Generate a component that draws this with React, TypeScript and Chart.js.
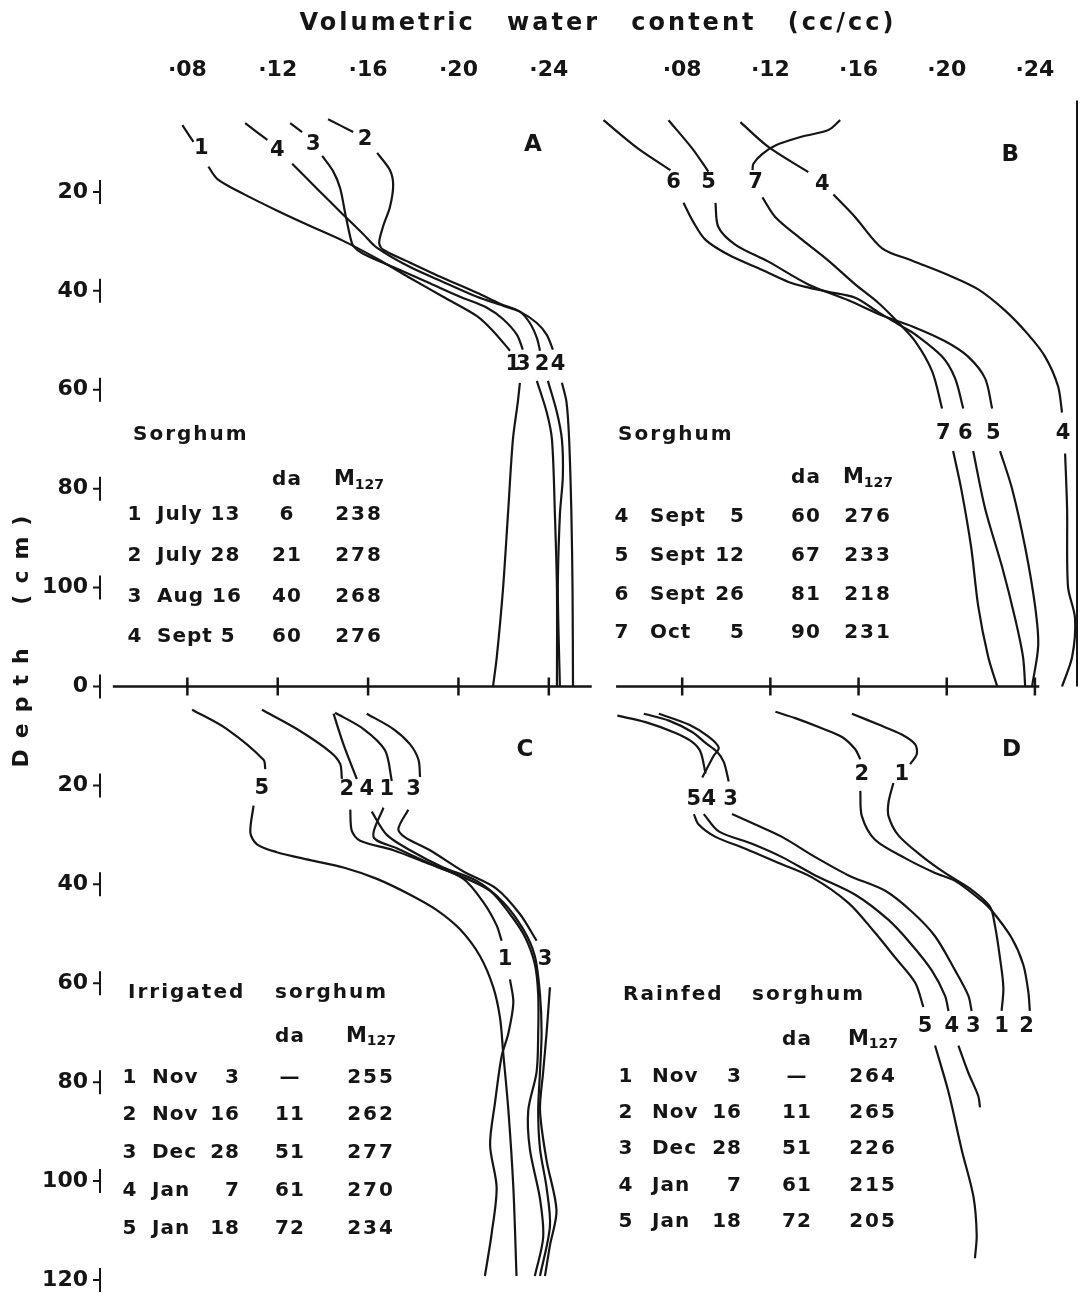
import React, { useEffect, useRef } from 'react';
import { Chart, registerables } from 'chart.js';

Chart.register(...registerables);

type Pt = [number, number] | null;
type Tag = [string, number, number];

// ---- axes ----
const waterTicks = [0.08, 0.12, 0.16, 0.2, 0.24];
const waterTickLabels = ['·08', '·12', '·16', '·20', '·24'];
const depthTicks = [20, 40, 60, 80, 100, 120];
const upperDepthLabels = ['20', '40', '60', '80', '100', '0'];
const lowerDepthLabels = ['20', '40', '60', '80', '100', '120'];

// ---- profiles: [volumetric water content, depth cm]; null = break where the curve number sits ----
// A: sorghum, July - Sept
const A1: Pt[] = [[0.0778, 6.5], [0.0827, 9.9], null, [0.0893, 14.9], [0.0933, 17.4], [0.1048, 20.4], [0.1198, 23.8], [0.1344, 26.9], [0.149, 29.9], [0.164, 33.5], [0.1786, 37.4], [0.1932, 41.2], [0.2082, 45.1], [0.2153, 48.1], [0.2228, 52.1], null, [0.2272, 58.6], [0.2263, 62.4], [0.2241, 70.1], [0.2219, 85.3], [0.2197, 100.4], [0.217, 113.9], [0.2153, 120]];
const A2: Pt[] = [[0.1423, 5.3], [0.1534, 7.9], null, [0.164, 12.1], [0.1697, 15.6], [0.1711, 18.6], [0.1697, 23.0], [0.1667, 26.9], [0.1649, 30.3], [0.1667, 31.7], [0.1786, 34.3], [0.1932, 37.4], [0.2082, 40.4], [0.2184, 42.6], [0.2272, 44.2], [0.2316, 46.5], [0.2347, 49.5], [0.2361, 52.1], null, [0.2396, 58.2], [0.2436, 64.6], [0.2458, 70.1], [0.2462, 77.6], [0.2449, 85.3], [0.244, 100.4], [0.2449, 120]];
const A3: Pt[] = [[0.1255, 6.1], [0.1308, 7.9], null, [0.1397, 12.7], [0.1445, 15.8], [0.1476, 19.2], [0.1499, 24.4], [0.1521, 29.1], [0.1534, 30.9], [0.1578, 32.5], [0.1711, 35.2], [0.1861, 38.2], [0.2007, 41.2], [0.2126, 43.4], [0.2197, 45.7], [0.2259, 48.9], [0.2285, 51.9], null, [0.2347, 58.2], [0.2391, 64.6], [0.2414, 70.1], [0.2427, 85.3], [0.2436, 100.4], [0.2436, 120]];
const A4: Pt[] = [[0.1056, 6.1], [0.1154, 9.5], null, [0.1264, 14.3], [0.1375, 19.4], [0.149, 24.6], [0.1578, 28.5], [0.164, 31.3], [0.1786, 35.2], [0.1932, 38.2], [0.2082, 41.2], [0.2197, 43.0], [0.2272, 44.2], [0.2347, 46.5], [0.2391, 48.9], [0.2418, 51.9], null, [0.2458, 58.6], [0.2478, 62.4], [0.249, 70.1], [0.25, 85.3], [0.2505, 100.4], [0.2507, 120]];

// B: sorghum, Sept - Oct
const B4: Pt[] = [[0.1064, 5.9], [0.1191, 10.9], [0.1372, 16.0], null, [0.1486, 20.5], [0.1585, 25.1], [0.1707, 31.4], [0.1844, 33.9], [0.2007, 36.8], [0.2143, 39.7], [0.2265, 44.0], [0.2369, 48.8], [0.2446, 53.3], [0.2505, 59.3], [0.2523, 64.6], null, [0.2537, 72.9], [0.2546, 84.0], [0.255, 99.8], [0.2582, 106.2], [0.2569, 114.0], [0.2523, 120]];
const B5: Pt[] = [[0.0738, 5.5], [0.0847, 11.3], [0.0919, 15.9], null, [0.0951, 22.2], [0.0964, 27.1], [0.1042, 30.7], [0.1191, 34.1], [0.1372, 38.7], [0.1554, 41.9], [0.1707, 45.0], [0.1844, 47.2], [0.1993, 50.2], [0.2097, 53.3], [0.2174, 57.7], [0.2206, 63.8], null, [0.2242, 72.4], [0.2297, 80.1], [0.2356, 91.9], [0.2401, 103.8], [0.2415, 111.7], [0.2387, 120]];
const B6: Pt[] = [[0.0443, 5.5], [0.0602, 11.3], [0.0747, 15.6], null, [0.0806, 22.2], [0.0851, 26.1], [0.0906, 29.7], [0.101, 32.7], [0.1164, 35.8], [0.1282, 38.2], [0.1359, 39.2], [0.1463, 40.2], [0.1585, 41.4], [0.1689, 44.3], [0.1798, 47.2], [0.1857, 48.8], [0.1979, 53.3], [0.2038, 57.7], [0.2075, 63.8], null, [0.212, 72.4], [0.2174, 84.0], [0.2251, 95.8], [0.231, 106.2], [0.2346, 114.0], [0.2356, 120]];
const B7: Pt[] = [[0.1517, 5.5], [0.1463, 7.5], [0.1345, 8.8], [0.1223, 10.6], [0.1164, 12.3], [0.1123, 14.3], [0.1119, 15.6], null, [0.1164, 21.1], [0.1223, 25.1], [0.1345, 29.7], [0.1463, 33.9], [0.1585, 38.7], [0.1689, 42.4], [0.1767, 45.8], [0.1857, 50.2], [0.1934, 56.3], [0.1979, 63.8], null, [0.2029, 72.4], [0.2066, 80.1], [0.2111, 91.9], [0.2143, 103.8], [0.2188, 114.0], [0.2229, 120]];

// C: irrigated sorghum, Nov - Jan
const C1: Pt[] = [[0.1454, 5.3], [0.158, 8.6], [0.1675, 12.9], [0.1705, 19.1], null, [0.1668, 24.5], [0.1624, 30.4], [0.1727, 32.7], [0.1874, 35.8], [0.2022, 38.9], [0.211, 43.6], [0.2169, 48.3], [0.2191, 51.4], null, [0.2228, 59.2], [0.2243, 63.9], [0.2221, 70.1], [0.2191, 74.8], [0.2162, 84.1], [0.214, 92.7], [0.2169, 101.3], [0.2147, 110.6], [0.2117, 119.2]];
const C2: Pt[] = [[0.113, 4.7], [0.1285, 8.6], [0.1432, 13.2], [0.1476, 15.6], [0.1484, 18.7], null, [0.1521, 24.9], [0.1528, 29.2], [0.1565, 31.2], [0.1712, 33.1], [0.186, 35.7], [0.2007, 38.3], [0.214, 41.3], [0.2228, 46.0], [0.2294, 50.6], [0.2338, 56.1], [0.2353, 62.3], [0.2353, 70.1], [0.2346, 77.9], [0.2309, 85.7], [0.2316, 93.5], [0.2361, 103.6], [0.2375, 111.4], [0.2338, 119.2]];
const C3: Pt[] = [[0.1594, 5.5], [0.1712, 8.6], [0.1786, 11.7], [0.1823, 14.8], [0.183, 18.3], null, [0.1778, 24.9], [0.1734, 28.8], [0.1764, 30.5], [0.1874, 33.1], [0.2022, 37.4], [0.2169, 40.9], [0.2272, 46.0], [0.2346, 51.4], null, [0.2405, 60.8], [0.239, 70.1], [0.2375, 77.9], [0.2361, 85.7], [0.239, 95.8], [0.2434, 105.9], [0.2405, 113.0], [0.2383, 119.2]];
const C4: Pt[] = [[0.1447, 5.5], [0.1491, 11.7], [0.155, 18.7], null, [0.1616, 25.3], [0.1683, 30.0], [0.1786, 33.1], [0.1933, 36.6], [0.2081, 39.3], [0.2198, 43.6], [0.2287, 49.1], [0.2338, 54.5], [0.2361, 62.3], [0.2368, 70.1], [0.2361, 77.9], [0.2353, 85.7], [0.2361, 93.5], [0.239, 101.3], [0.2405, 109.1], [0.2361, 119.2]];
const C5: Pt[] = [[0.0821, 4.7], [0.0975, 8.6], [0.1137, 14.8], [0.1145, 16.7], null, [0.1093, 24.1], [0.1079, 29.6], [0.1108, 31.9], [0.1196, 33.5], [0.1344, 35.1], [0.1491, 36.6], [0.1639, 38.9], [0.1786, 42.1], [0.1904, 45.2], [0.2007, 49.1], [0.2095, 54.5], [0.2154, 60.8], [0.2184, 67.0], [0.2198, 74.0], [0.2221, 85.7], [0.2243, 101.3], [0.2257, 119.2]];

// D: rainfed sorghum, Nov - Jan
const D1: Pt[] = [[0.157, 5.5], [0.1691, 7.7], [0.1796, 9.7], [0.1857, 11.7], [0.1864, 13.7], [0.1834, 15.7], null, [0.1758, 19.5], [0.1736, 23.4], [0.1736, 26.2], [0.1781, 30.1], [0.1887, 34.3], [0.1992, 37.7], [0.2113, 41.1], [0.2196, 44.5], [0.2219, 48.4], [0.2241, 54.7], [0.2257, 60.9], [0.2249, 65.6]];
const D2: Pt[] = [[0.1223, 5.1], [0.1313, 6.4], [0.1419, 8.2], [0.1525, 10.2], [0.1585, 12.7], [0.1608, 14.7], null, [0.1608, 21.1], [0.1615, 26.2], [0.1675, 31.0], [0.1811, 34.7], [0.1947, 37.7], [0.2038, 39.3], [0.2158, 43.3], [0.2204, 45.3], [0.2294, 50.8], [0.2347, 56.2], [0.237, 61.7], [0.2377, 65.6]];
const D3: Pt[] = [[0.0626, 5.5], [0.074, 6.9], [0.0845, 9.2], [0.0906, 11.4], [0.0958, 13.2], [0.0989, 15.3], [0.1011, 19.2], null, [0.1026, 25.8], [0.1132, 27.9], [0.1253, 30.4], [0.1404, 34.5], [0.1555, 38.2], [0.1721, 41.3], [0.1841, 45.5], [0.1947, 50.5], [0.2038, 57.4], [0.2098, 62.5], [0.2113, 65.6]];
const D4: Pt[] = [[0.0506, 5.9], [0.0634, 7.2], [0.077, 9.4], [0.0845, 11.2], [0.0883, 13.2], [0.0906, 17.6], null, [0.0898, 25.8], [0.0966, 29.3], [0.1117, 31.8], [0.1253, 34.5], [0.1404, 38.2], [0.1585, 42.1], [0.1736, 47.2], [0.1841, 52.2], [0.1932, 57.4], [0.1992, 62.5], [0.2008, 65.6], null, [0.2053, 72.6], [0.2098, 78.1], [0.2143, 82.8], [0.2151, 85.1]];
const D5: Pt[] = [[0.0694, 5.5], [0.083, 7.7], [0.0921, 10.2], [0.0966, 12.4], [0.0943, 14.0], [0.0891, 18.4], null, [0.0853, 25.8], [0.0875, 27.9], [0.0951, 30.4], [0.1087, 32.8], [0.1238, 35.7], [0.1389, 38.6], [0.1555, 43.8], [0.1675, 49.8], [0.1766, 54.8], [0.1857, 59.9], [0.1894, 64.8], null, [0.1947, 72.6], [0.2008, 82.0], [0.2068, 93.7], [0.2121, 103.1], [0.2136, 110.9], [0.2128, 115.6]];

// ---- curve numbers and panel letters, placed in data coordinates ----
const tagsA: Tag[] = [['1', 0.0862, 11.3], ['4', 0.1198, 11.7], ['3', 0.1357, 10.5], ['2', 0.1587, 9.5], ['1', 0.2241, 54.9], ['3', 0.2287, 54.9], ['2', 0.237, 54.9], ['4', 0.2441, 54.9]];
const tagsB: Tag[] = [['6', 0.0761, 18.2], ['5', 0.092, 18.2], ['7', 0.1133, 18.2], ['4', 0.1436, 18.6], ['7', 0.1984, 68.8], ['6', 0.2084, 68.8], ['5', 0.2211, 68.8], ['4', 0.2528, 68.8]];
const tagsC: Tag[] = [['5', 0.113, 20.6], ['2', 0.1506, 20.9], ['4', 0.1594, 20.9], ['1', 0.1683, 20.9], ['3', 0.1801, 20.9], ['1', 0.2206, 55.3], ['3', 0.2383, 55.3]];
const tagsD: Tag[] = [['5', 0.0853, 22.8], ['4', 0.0921, 22.8], ['3', 0.1019, 22.8], ['2', 0.1615, 17.9], ['1', 0.1796, 17.9], ['5', 0.1902, 68.7], ['4', 0.2023, 68.7], ['3', 0.2121, 68.7], ['1', 0.2249, 68.7], ['2', 0.2362, 68.7]];
const letterA: Tag = ['A', 0.233, 10.5];
const letterB: Tag = ['B', 0.2288, 12.5];
const letterC: Tag = ['C', 0.2294, 12.9];
const letterD: Tag = ['D', 0.2294, 12.9];

// ---- key tables: number, month, day, days after sowing, M127 ----
const titleA = ['Sorghum'];
const rowsA = [['1', 'July', '13', '6', '238'], ['2', 'July', '28', '21', '278'], ['3', 'Aug', '16', '40', '268'], ['4', 'Sept', '5', '60', '276']];
const titleB = ['Sorghum'];
const rowsB = [['4', 'Sept', '5', '60', '276'], ['5', 'Sept', '12', '67', '233'], ['6', 'Sept', '26', '81', '218'], ['7', 'Oct', '5', '90', '231']];
const titleC = ['Irrigated', 'sorghum'];
const rowsC = [['1', 'Nov', '3', '—', '255'], ['2', 'Nov', '16', '11', '262'], ['3', 'Dec', '28', '51', '277'], ['4', 'Jan', '7', '61', '270'], ['5', 'Jan', '18', '72', '234']];
const titleD = ['Rainfed', 'sorghum'];
const rowsD = [['1', 'Nov', '3', '—', '264'], ['2', 'Nov', '16', '11', '265'], ['3', 'Dec', '28', '51', '226'], ['4', 'Jan', '7', '61', '215'], ['5', 'Jan', '18', '72', '205']];

const HEADING = 'Volumetric water content (cc/cc)';
const DEPTH_TITLE = 'Depth (cm)';

const FONT = '"DejaVu Sans", sans-serif';
const INK = '#151515';

type TableLayout = {
  titleX: number[]; titleY: number; headerY: number; rowY0: number; rowStep: number;
  numX: number; monthX: number; dayRight: number | null; daX: number; mX: number;
};

const layoutA: TableLayout = { titleX: [36], titleY: 342, headerY: 387, rowY0: 422, rowStep: 40.7, numX: 38, monthX: 60, dayRight: null, daX: 190, mX: 262 };
const layoutB: TableLayout = { titleX: [24], titleY: 342, headerY: 385, rowY0: 424, rowStep: 38.7, numX: 28, monthX: 56, dayRight: 151, daX: 212, mX: 274 };
const layoutC: TableLayout = { titleX: [31, 178], titleY: 306, headerY: 350, rowY0: 391, rowStep: 37.7, numX: 33, monthX: 55, dayRight: 143, daX: 193, mX: 274 };
const layoutD: TableLayout = { titleX: [29, 158], titleY: 308, headerY: 353, rowY0: 390, rowStep: 36.3, numX: 32, monthX: 58, dayRight: 148, daX: 203, mX: 279 };

function toPoints(pts: Pt[]) {
  return pts.map((p) => (p ? { x: p[0], y: p[1] } : { x: null, y: null }));
}

function drawText(ctx: any, s: string, x: number, y: number, font: string, align: string, spacing = '0px') {
  ctx.font = font;
  ctx.letterSpacing = spacing;
  ctx.textAlign = align;
  ctx.fillText(s, x, y);
}

function drawTable(ctx: any, ox: number, oy: number, L: TableLayout, title: string[], rows: string[][]) {
  const f = `bold 20px ${FONT}`;
  ctx.textBaseline = 'middle';
  title.forEach((w, i) => drawText(ctx, w, ox + L.titleX[i], oy + L.titleY, f, 'left', '2px'));
  drawText(ctx, 'da', ox + L.daX, oy + L.headerY, f, 'center', '1px');
  ctx.letterSpacing = '0px';
  ctx.font = `bold 21px ${FONT}`;
  const mw = ctx.measureText('M').width;
  ctx.font = `bold 14px ${FONT}`;
  const sw = ctx.measureText('127').width;
  const x0 = ox + L.mX - (mw + sw) / 2;
  drawText(ctx, 'M', x0, oy + L.headerY, `bold 21px ${FONT}`, 'left');
  drawText(ctx, '127', x0 + mw, oy + L.headerY + 5, `bold 14px ${FONT}`, 'left');
  rows.forEach((r, i) => {
    const y = oy + L.rowY0 + i * L.rowStep;
    drawText(ctx, r[0], ox + L.numX, y, f, 'center', '1px');
    if (L.dayRight == null) {
      drawText(ctx, `${r[1]} ${r[2]}`, ox + L.monthX, y, f, 'left', '1px');
    } else {
      drawText(ctx, r[1], ox + L.monthX, y, f, 'left', '1px');
      drawText(ctx, r[2], ox + L.dayRight, y, f, 'right', '1px');
    }
    drawText(ctx, r[3], ox + L.daX, y, f, 'center', '1px');
    drawText(ctx, r[4], ox + L.mX, y, f, 'center', '2px');
  });
}

const overlay = {
  id: 'overlay',
  afterDraw(chart: any) {
    const { ctx } = chart;
    const { xA, xB, yTop, yBot } = chart.scales;
    ctx.save();
    ctx.fillStyle = INK;
    ctx.strokeStyle = INK;
    ctx.lineCap = 'butt';

    // heading across both columns
    ctx.textBaseline = 'middle';
    ctx.wordSpacing = '20px';
    drawText(ctx, HEADING, (xA.left + xB.right) / 2 + 10, 24, `bold 24px ${FONT}`, 'center', '3px');
    ctx.wordSpacing = '0px';

    // depth title, rotated
    ctx.save();
    ctx.translate(22, 636);
    ctx.rotate(-Math.PI / 2);
    ctx.wordSpacing = '14px';
    drawText(ctx, DEPTH_TITLE, 0, 0, `bold 22px ${FONT}`, 'center', '11px');
    ctx.restore();

    // short axis bars beside each depth label
    ctx.lineWidth = 2;
    [yTop, yBot].forEach((ys: any) => {
      depthTicks.forEach((v) => {
        const y = ys.getPixelForValue(v);
        const bx = ys.right + 3;
        ctx.beginPath();
        ctx.moveTo(bx, y - 12);
        ctx.lineTo(bx, y + 12);
        ctx.moveTo(bx - 7, y);
        ctx.lineTo(bx, y);
        ctx.stroke();
      });
    });

    // shared water-content axis between the rows
    const yMid = yTop.getPixelForValue(120);
    ctx.lineWidth = 2.5;
    [[xA, 0.047, 0.259], [xB, 0.05, 0.242]].forEach(([xs, a, b]: any) => {
      ctx.beginPath();
      ctx.moveTo(xs.getPixelForValue(a), yMid);
      ctx.lineTo(xs.getPixelForValue(b), yMid);
      waterTicks.forEach((v) => {
        const x = xs.getPixelForValue(v);
        ctx.moveTo(x, yMid - 9);
        ctx.lineTo(x, yMid + 9);
      });
      ctx.stroke();
    });

    // right frame of panel B
    ctx.lineWidth = 2;
    ctx.beginPath();
    ctx.moveTo(xB.right - 2, yTop.getPixelForValue(1.5));
    ctx.lineTo(xB.right - 2, yMid);
    ctx.stroke();

    // curve numbers and panel letters
    const panels: [any, any, Tag[], Tag][] = [
      [xA, yTop, tagsA, letterA],
      [xB, yTop, tagsB, letterB],
      [xA, yBot, tagsC, letterC],
      [xB, yBot, tagsD, letterD],
    ];
    ctx.textBaseline = 'middle';
    panels.forEach(([xs, ys, tags, letter]) => {
      tags.forEach(([t, v, d]) => {
        drawText(ctx, t, xs.getPixelForValue(v), ys.getPixelForValue(d), `bold 21px ${FONT}`, 'center');
      });
      drawText(ctx, letter[0], xs.getPixelForValue(letter[1]), ys.getPixelForValue(letter[2]), `bold 23px ${FONT}`, 'center');
    });

    // key tables
    drawTable(ctx, xA.left, yTop.top, layoutA, titleA, rowsA);
    drawTable(ctx, xB.left, yTop.top, layoutB, titleB, rowsB);
    drawTable(ctx, xA.left, yBot.top, layoutC, titleC, rowsC);
    drawTable(ctx, xB.left, yBot.top, layoutD, titleD, rowsD);

    ctx.letterSpacing = '0px';
    ctx.restore();
  },
};

// weight orders the stacked boxes: the heavier one sits first (left / top)
function waterScale(share: number, order: number) {
  return {
    type: 'linear',
    position: 'top',
    stack: 'water',
    stackWeight: share,
    weight: order,
    min: 0.04,
    max: 0.26,
    grid: { display: false, drawTicks: false },
    border: { display: false },
    afterBuildTicks: (s: any) => { s.ticks = waterTicks.map((value) => ({ value })); },
    afterFit: (s: any) => { s.height = 93; s.paddingLeft = 0; s.paddingRight = 0; },
    ticks: {
      autoSkip: false,
      maxRotation: 0,
      padding: 10,
      color: INK,
      font: { family: FONT, size: 22, weight: 'bold' },
      callback: (_v: any, i: number) => waterTickLabels[i],
    },
  };
}

function depthScale(labels: string[], order: number) {
  return {
    type: 'linear',
    position: 'left',
    stack: 'depth',
    stackWeight: 1,
    weight: order,
    reverse: true,
    min: 0,
    max: 120,
    grid: { display: false, drawTicks: false },
    border: { display: false },
    afterBuildTicks: (s: any) => { s.ticks = depthTicks.map((value) => ({ value })); },
    afterFit: (s: any) => { s.width = 97; s.paddingTop = 0; s.paddingBottom = 0; },
    ticks: {
      autoSkip: false,
      padding: 9,
      color: INK,
      font: { family: FONT, size: 22, weight: 'bold' },
      callback: (_v: any, i: number) => labels[i],
    },
  };
}

const series: [string, string, Pt[]][] = [
  ['xA', 'yTop', A1], ['xA', 'yTop', A2], ['xA', 'yTop', A3], ['xA', 'yTop', A4],
  ['xB', 'yTop', B4], ['xB', 'yTop', B5], ['xB', 'yTop', B6], ['xB', 'yTop', B7],
  ['xA', 'yBot', C1], ['xA', 'yBot', C2], ['xA', 'yBot', C3], ['xA', 'yBot', C4], ['xA', 'yBot', C5],
  ['xB', 'yBot', D1], ['xB', 'yBot', D2], ['xB', 'yBot', D3], ['xB', 'yBot', D4], ['xB', 'yBot', D5],
];

export default function App() {
  const ref = useRef<HTMLCanvasElement>(null);

  useEffect(() => {
    if (!ref.current) return;
    const chart = new Chart(ref.current, {
      type: 'scatter',
      data: {
        datasets: series.map(([xId, yId, pts]) => ({
          data: toPoints(pts),
          xAxisID: xId,
          yAxisID: yId,
          showLine: true,
          spanGaps: false,
          borderColor: INK,
          borderWidth: 2.2,
          pointRadius: 0,
          tension: 0.3,
          clip: false,
        })),
      },
      options: {
        responsive: false,
        animation: false,
        devicePixelRatio: 1,
        layout: { padding: { left: 0, right: 6, top: 0, bottom: 18 } },
        plugins: { legend: { display: false }, tooltip: { enabled: false }, title: { display: false } },
        scales: {
          xA: waterScale(497, 2),
          xB: waterScale(485, 1),
          yTop: depthScale(upperDepthLabels, 2),
          yBot: depthScale(lowerDepthLabels, 1),
        },
      } as any,
      plugins: [overlay],
    });
    return () => chart.destroy();
  }, []);

  return (
    <div style={{ position: 'absolute', left: 0, top: 0, width: 1085, height: 1298, background: '#fff' }}>
      <canvas ref={ref} width={1085} height={1298} style={{ display: 'block', width: 1085, height: 1298 }} />
    </div>
  );
}
